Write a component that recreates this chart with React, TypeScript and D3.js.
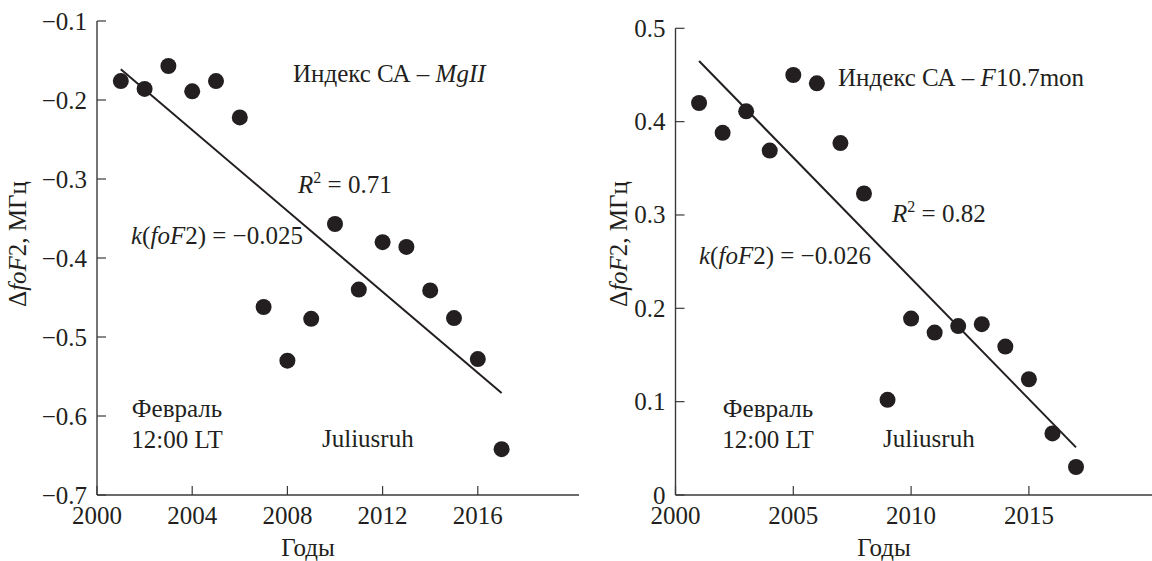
import React, { useEffect, useRef } from 'react'
import * as d3 from 'd3'

// Годы наблюдений
const years = [2001, 2002, 2003, 2004, 2005, 2006, 2007, 2008, 2009, 2010, 2011, 2012, 2013, 2014, 2015, 2016, 2017]

// ΔfoF2 for the MgII index (left panel)
const mgIIValues = [-0.176, -0.186, -0.157, -0.189, -0.176, -0.222, -0.462, -0.530, -0.477, -0.357, -0.440, -0.380, -0.386, -0.441, -0.476, -0.528, -0.642]
const mgIITrend: [number, number][] = [[2001, -0.161], [2017, -0.571]]
const mgIIYTicks = [-0.7, -0.6, -0.5, -0.4, -0.3, -0.2, -0.1]
const mgIIXTicks = [2000, 2004, 2008, 2012, 2016]

// ΔfoF2 for the F10.7mon index (right panel)
const f107Values = [0.420, 0.388, 0.411, 0.369, 0.450, 0.441, 0.377, 0.323, 0.102, 0.189, 0.174, 0.181, 0.183, 0.159, 0.124, 0.066, 0.030]
const f107Trend: [number, number][] = [[2001, 0.465], [2017, 0.051]]
const f107YTicks = [0, 0.1, 0.2, 0.3, 0.4, 0.5]
const f107XTicks = [2000, 2005, 2010, 2015]

const FONT = 'Liberation Serif, Times New Roman, DejaVu Serif, serif'
const FS = 25
const INK = '#231f20'

interface PanelConfig {
  left: number
  right: number
  axisEnd: number
  top: number
  bottom: number
  yDomain: [number, number]
  yTicks: number[]
  xTicks: number[]
  values: number[]
  trend: [number, number][]
  yFormat: (d: number) => string
  labelX: number
}

// mixed upright/italic text through tspans
type Run = [string, boolean] | [string, boolean, 'sup']

function addText(
  g: d3.Selection<SVGGElement, unknown, null, undefined>,
  x: number,
  y: number,
  runs: Run[],
  anchor = 'start'
) {
  const t = g.append('text')
    .attr('x', x)
    .attr('y', y)
    .attr('text-anchor', anchor)
    .attr('font-family', FONT)
    .attr('font-size', FS)
    .attr('fill', INK)
  let raised = false
  runs.forEach(r => {
    const s = t.append('tspan').text(r[0])
    if (r[1]) s.attr('font-style', 'italic')
    if (r[2] === 'sup') {
      s.attr('dy', -10).attr('font-size', 16)
      raised = true
    } else if (raised) {
      s.attr('dy', 10)
      raised = false
    }
  })
  return t
}

function drawPanel(g: d3.Selection<SVGGElement, unknown, null, undefined>, c: PanelConfig) {
  const x = d3.scaleLinear().domain([2000, 2020]).range([c.left, c.right])
  const y = d3.scaleLinear().domain(c.yDomain).range([c.bottom, c.top])

  // axes lines
  g.append('line')
    .attr('x1', c.left).attr('x2', c.left)
    .attr('y1', c.top).attr('y2', c.bottom)
    .attr('stroke', '#3a3a3a').attr('stroke-width', 1.4)
  g.append('line')
    .attr('x1', c.left).attr('x2', c.axisEnd)
    .attr('y1', c.bottom).attr('y2', c.bottom)
    .attr('stroke', '#3a3a3a').attr('stroke-width', 1.4)

  // y ticks, pointing inward
  c.yTicks.forEach(v => {
    g.append('line')
      .attr('x1', c.left).attr('x2', c.left + 9)
      .attr('y1', y(v)).attr('y2', y(v))
      .attr('stroke', '#3a3a3a').attr('stroke-width', 1.2)
    g.append('text')
      .attr('x', c.left - 10)
      .attr('y', y(v))
      .attr('dy', '0.34em')
      .attr('text-anchor', 'end')
      .attr('font-family', FONT)
      .attr('font-size', FS)
      .attr('fill', INK)
      .text(c.yFormat(v))
  })

  // x ticks
  c.xTicks.forEach(v => {
    g.append('line')
      .attr('x1', x(v)).attr('x2', x(v))
      .attr('y1', c.bottom).attr('y2', c.bottom - 9)
      .attr('stroke', '#3a3a3a').attr('stroke-width', 1.2)
    g.append('text')
      .attr('x', x(v))
      .attr('y', c.bottom + 29)
      .attr('text-anchor', 'middle')
      .attr('font-family', FONT)
      .attr('font-size', FS)
      .attr('fill', INK)
      .text(String(v))
  })

  // trend line
  const line = d3.line<[number, number]>().x(d => x(d[0])).y(d => y(d[1]))
  g.append('path')
    .datum(c.trend)
    .attr('d', line)
    .attr('fill', 'none')
    .attr('stroke', INK)
    .attr('stroke-width', 2)

  // points
  g.selectAll('circle.pt')
    .data(years.map((yr, i) => [yr, c.values[i]] as [number, number]))
    .enter()
    .append('circle')
    .attr('class', 'pt')
    .attr('cx', d => x(d[0]))
    .attr('cy', d => y(d[1]))
    .attr('r', 8)
    .attr('fill', INK)

  // axis titles
  addText(g, (c.left + c.right) / 2 - 27, 556, [['Годы', false]], 'middle')
  const yl = addText(g, 0, 0, [['Δ', false], ['foF', true], ['2, МГц', false]], 'middle')
  yl.attr('transform', `translate(${c.labelX},244) rotate(-90)`)
}

const App: React.FC = () => {
  const svgRef = useRef<SVGSVGElement>(null)

  useEffect(() => {
    if (!svgRef.current) return
    const svg = d3.select(svgRef.current)
    svg.selectAll('*').remove()

    const gl = svg.append('g')
    drawPanel(gl, {
      left: 97, right: 573, axisEnd: 579, top: 21, bottom: 495,
      yDomain: [-0.7, -0.1], yTicks: mgIIYTicks, xTicks: mgIIXTicks,
      values: mgIIValues, trend: mgIITrend,
      yFormat: d3.format('.1f'), labelX: 26
    })
    addText(gl, 293, 82, [['Индекс СА – ', false], ['MgII', true]])
    addText(gl, 298, 193, [['R', true], ['2', false, 'sup'], [' = 0.71', false]])
    addText(gl, 131, 244, [['k', true], ['(', false], ['foF', true], ['2) = −0.025', false]])
    addText(gl, 177, 417, [['Февраль', false]], 'middle')
    addText(gl, 177, 448, [['12:00 LT', false]], 'middle')
    addText(gl, 322, 447, [['Juliusruh', false]])

    const gr = svg.append('g')
    drawPanel(gr, {
      left: 675.5, right: 1146.7, axisEnd: 1152, top: 28.3, bottom: 495,
      yDomain: [0, 0.5], yTicks: f107YTicks, xTicks: f107XTicks,
      values: f107Values, trend: f107Trend,
      yFormat: d => (d === 0 ? '0' : d3.format('.1f')(d)), labelX: 627
    })
    addText(gr, 838, 86, [['Индекс СА – ', false], ['F', true], ['10.7mon', false]])
    addText(gr, 892, 222, [['R', true], ['2', false, 'sup'], [' = 0.82', false]])
    addText(gr, 699, 264, [['k', true], ['(', false], ['foF', true], ['2) = −0.026', false]])
    addText(gr, 768, 417, [['Февраль', false]], 'middle')
    addText(gr, 768, 448, [['12:00 LT', false]], 'middle')
    addText(gr, 883, 447, [['Juliusruh', false]])
  }, [])

  return (
    <svg
      ref={svgRef}
      width={1152}
      height={561}
      style={{ position: 'absolute', left: 0, top: 0, background: '#fff' }}
    />
  )
}

export default App
